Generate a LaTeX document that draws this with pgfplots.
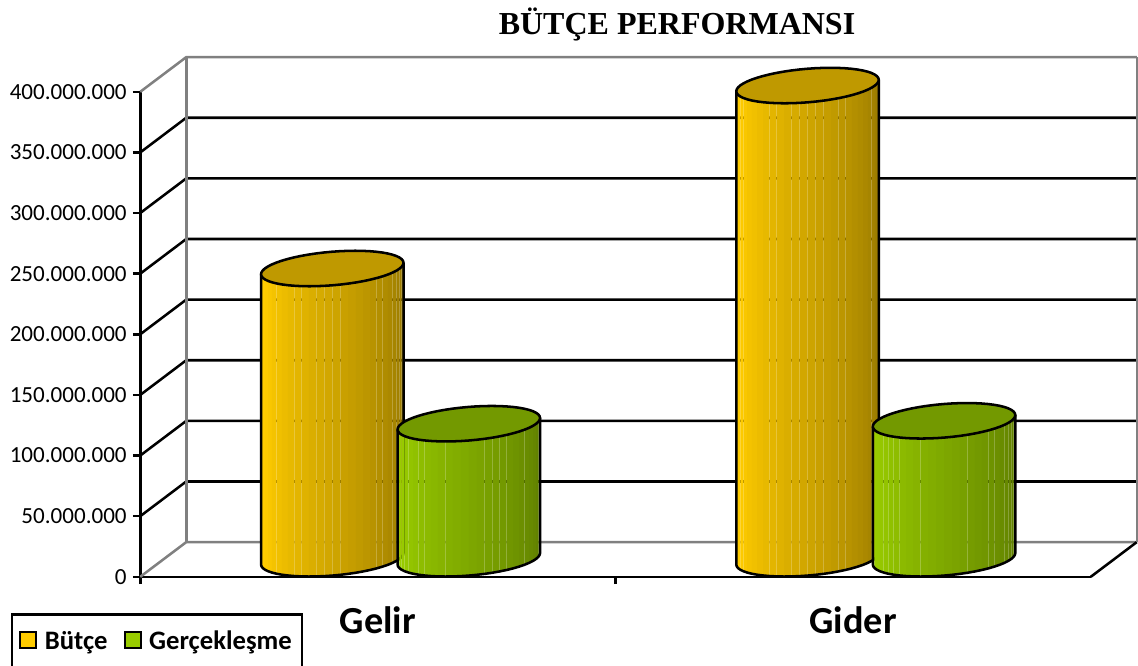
\documentclass[border=0pt]{standalone}
\usepackage{pgfplots}
\pgfplotsset{compat=1.18}
\usepackage{fontspec}
\setmainfont{Carlito}
\newfontfamily\titlefont{Liberation Serif}
\definecolor{yL}{HTML}{FFCC00}
\definecolor{yR}{HTML}{937500}
\definecolor{yT}{HTML}{BF9900}
\definecolor{gL}{HTML}{99CC00}
\definecolor{gR}{HTML}{5C7A00}
\definecolor{gT}{HTML}{739900}
\definecolor{wall}{HTML}{808080}
\def\px{0.75pt}
\def\lw{1.9pt}
% geometry of a cylinder on the chart's data scale
\def\cA{0.1419}   % half width along x
\def\cVx{0.0484}  % depth, x part
\def\cVy{14.64}   % depth, y part
\def\cBase{14.86} % base centre above the front edge of the floor
\newcommand{\cyl}[5]{%
  \foreach \i in {0,...,27}{%
    \pgfmathsetmacro\ta{198.84+\i*180/28}%
    \pgfmathsetmacro\tb{198.84+(\i+1)*180/28}%
    \pgfmathsetmacro\xa{#1+\cA*cos(\ta)+\cVx*sin(\ta)}%
    \pgfmathsetmacro\xb{#1+\cA*cos(\tb)+\cVx*sin(\tb)}%
    \pgfmathsetmacro\ya{\cBase+\cVy*sin(\ta)}%
    \pgfmathsetmacro\yb{\cBase+\cVy*sin(\tb)}%
    \pgfmathsetmacro\yc{\ya+#2}%
    \pgfmathsetmacro\yd{\yb+#2}%
    \pgfmathsetmacro\pct{min(100,100-(\i-2.5)*100/25)}%
    \edef\temp{\noexpand\addplot[fill=#3!\pct!#4,draw=none,forget plot]
      coordinates {(\xa,\ya)(\xa,\yc)(\xb,\yd)(\xb,\yb)} -- cycle;}\temp
  }%
  \gdef\body{}\gdef\topc{}%
  \foreach \i in {0,...,28}{%
    \pgfmathsetmacro\ta{198.84+\i*180/28}%
    \pgfmathsetmacro\xa{#1+\cA*cos(\ta)+\cVx*sin(\ta)}%
    \pgfmathsetmacro\ya{\cBase+\cVy*sin(\ta)}%
    \xdef\body{\body(\xa,\ya)}%
  }%
  \foreach \i in {0,...,56}{%
    \pgfmathsetmacro\ta{\i*45/7}%
    \pgfmathsetmacro\xa{#1+\cA*cos(\ta)+\cVx*sin(\ta)}%
    \pgfmathsetmacro\ya{\cBase+#2+\cVy*sin(\ta)}%
    \xdef\topc{\topc(\xa,\ya)}%
  }%
  \pgfmathsetmacro\xl{#1-\cA*cos(18.84)-\cVx*sin(18.84)}%
  \pgfmathsetmacro\xr{#1+\cA*cos(18.84)+\cVx*sin(18.84)}%
  \pgfmathsetmacro\yl{\cBase+#2-\cVy*sin(18.84)}%
  \pgfmathsetmacro\yr{\cBase+#2+\cVy*sin(18.84)}%
  \edef\temp{\noexpand\addplot[black,line width=\lw,line join=round,forget plot]
    coordinates {(\xl,\yl)\body(\xr,\yr)};}\temp
  \edef\temp{\noexpand\addplot[fill=#5,draw=black,line width=\lw,line join=round,forget plot]
    coordinates {\topc} -- cycle;}\temp
}
\begin{document}
\begin{tikzpicture}[x=\px,y=\px]
\path[use as bounding box] (0,0) rectangle (1138,666);
\begin{axis}[
  at={(105.2pt,66.9pt)},anchor=south west,
  scale only axis,width=950.5*\px,height=485*\px,
  clip=false,
  xmin=0,xmax=2,ymin=0,ymax=400,
  axis x line*=bottom,axis y line*=left,
  axis line style={-,line width=\lw,black},
  tick style={black,line width=\lw},
  tick align=outside,major tick length=5.5pt,
  xtick={0,1},xticklabels={,},
  extra x ticks={0.5,1.5},
  extra x tick labels={Gelir,Gider},
  extra x tick style={major tick length=0pt,
    tick label style={font=\fontsize{28.7}{32}\selectfont\bfseries,yshift=-18.5pt}},
  ytick={0,50,100,150,200,250,300,350,400},
  yticklabels={0,50.000.000,100.000.000,150.000.000,200.000.000,250.000.000,300.000.000,350.000.000,400.000.000},
  yticklabel style={font=\fontsize{17.3}{20}\selectfont,inner sep=1pt,xshift=-3.5pt},
  legend columns=2,
  legend style={at={(-0.1363,-0.0753)},anchor=north west,draw=black,line width=\lw,
    font=\fontsize{20}{22}\selectfont\bfseries,
    inner xsep=5.5pt,inner ysep=10.5pt,
    /tikz/every even column/.append style={column sep=10pt}},
  legend cell align=left,
]
% walls and floor
\addplot[wall,line width=\lw,forget plot] coordinates {(0,0)(0.0968,28.6)(2.0968,28.6)};
\addplot[black,line width=\lw,forget plot] coordinates {(2,0)(2.0968,28.6)};
\addplot[black,line width=\lw,forget plot] coordinates {(0,50)(0.0968,78.6)(2.0968,78.6)};
\addplot[black,line width=\lw,forget plot] coordinates {(0,100)(0.0968,128.6)(2.0968,128.6)};
\addplot[black,line width=\lw,forget plot] coordinates {(0,150)(0.0968,178.6)(2.0968,178.6)};
\addplot[black,line width=\lw,forget plot] coordinates {(0,200)(0.0968,228.6)(2.0968,228.6)};
\addplot[black,line width=\lw,forget plot] coordinates {(0,250)(0.0968,278.6)(2.0968,278.6)};
\addplot[black,line width=\lw,forget plot] coordinates {(0,300)(0.0968,328.6)(2.0968,328.6)};
\addplot[black,line width=\lw,forget plot] coordinates {(0,350)(0.0968,378.6)(2.0968,378.6)};
\addplot[wall,line width=\lw,forget plot] coordinates {(0.0968,28.6)(0.0968,428.6)};
\addplot[wall,line width=\lw,forget plot] coordinates {(2.0968,28.6)(2.0968,428.6)};
\addplot[wall,line width=\lw,forget plot] coordinates {(0,400)(0.0968,428.6)(2.0968,428.6)};
% cylinders: x position, value (millions), colours
\cyl{0.4040}{239.4}{yL}{yR}{yT}
\cyl{0.6913}{111.4}{gL}{gR}{gT}
\cyl{1.4040}{390.3}{yL}{yR}{yT}
\cyl{1.6913}{113.8}{gL}{gR}{gT}
% legend
\addlegendimage{legend image code/.code={\draw[fill=yL,draw=black,line width=1.5pt] (-3pt,-5pt) rectangle (9pt,7pt);\path (12.5pt,0);}}
\addlegendentry{Bütçe}
\addlegendimage{legend image code/.code={\draw[fill=gL,draw=black,line width=1.5pt] (-3pt,-5pt) rectangle (9pt,7pt);\path (12.5pt,0);}}
\addlegendentry{Gerçekleşme}
\end{axis}
\node[font=\titlefont\fontsize{24}{28}\selectfont\bfseries,anchor=center] at (677,642) {BÜTÇE PERFORMANSI};
\end{tikzpicture}
\end{document}
